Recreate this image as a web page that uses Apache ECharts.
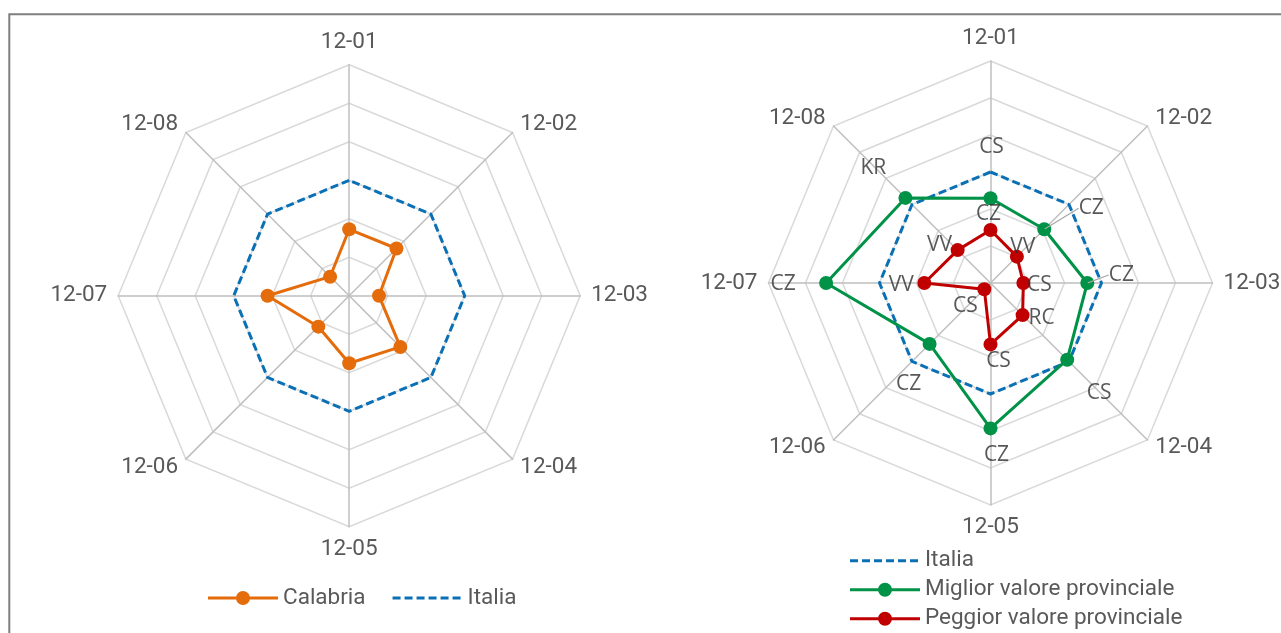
<!DOCTYPE html>
<html>
<head>
<meta charset="utf-8">
<script src="https://cdn.jsdelivr.net/npm/echarts@6/dist/echarts.min.js"></script>
<style>html,body{margin:0;padding:0;background:#fff;}#c{width:1281px;height:633px;}</style>
</head>
<body>
<div id="c"></div>
<script>
// ---- data ----
var categories = ['12-01','12-02','12-03','12-04','12-05','12-06','12-07','12-08'];
var calabria = [57.6, 57.9, 25.8, 62.6, 58.4, 37.8, 70.7, 23.4];
var italia = [100, 100, 100, 100, 100, 100, 100, 100];
var miglior = [76.3, 68.5, 87.2, 97.7, 131, 77.6, 148.1, 108.4];
var peggior = [47.7, 33.6, 29.6, 40.9, 55.3, 7.9, 59.6, 41.9];
var migliorProv = ['CS','CZ','CZ','CS','CZ','CZ','CZ','KR'];
var peggiorProv = ['CZ','VV','CS','RC','CS','CS','VV','VV'];
var axisMax = 200;

// ---- styles ----
var NARROW = "'Liberation Sans Narrow','Arial Narrow',Roboto,sans-serif";
var LBLFONT = "'Open Sans','Noto Sans',sans-serif";
var C_OR = '#E46C0A', C_BL = '#0A70B5', C_GR = '#009246', C_RD = '#C00000';
var migliorOff = [[1,-51],[47,-21],[34,-8],[32,33],[6,27],[-21,40],[-43,1],[-32,-30]];
var peggiorOff = [[-2,-16],[6,-10],[16,2],[19,3],[8,17],[-19,17],[-23,2],[-18,-5]];
var migliorLine = [false,true,true,false,false,false,false,false];

// radar places indicators counter-clockwise; reorder for clockwise
var order = [0,7,6,5,4,3,2,1];
function ro(arr){ return order.map(function(i){ return arr[i]; }); }
var indicators = ro(categories).map(function(n){ return {name:n, min:0, max:axisMax}; });

function radarCfg(center, radius){
  return {
    center: center, radius: radius, shape: 'polygon', splitNumber: 6, startAngle: 90,
    indicator: indicators, nameGap: 11,
    axisName: {color:'#595959', fontSize:22.5, fontFamily:NARROW},
    splitLine: {lineStyle:{color:'#D9D9D9', width:1.5}},
    splitArea: {show:false},
    axisLine: {lineStyle:{color:'#BFBFBF', width:1.5}},
    axisTick: {show:false}, axisLabel: {show:false}
  };
}
function lineSeries(name, ri, vals, color, dashed){
  return {
    type:'radar', radarIndex: ri, name: name, silent: true, z: dashed ? 2 : 3,
    symbol: dashed ? 'none' : 'circle', symbolSize: 14,
    itemStyle: {color: color, borderWidth: 0},
    lineStyle: {color: color, width: 3, type: dashed ? [8,4] : 'solid'},
    data: [{value: ro(vals), name: name}]
  };
}
function labelSeries(vals, names, offs, lines){
  return {
    type:'scatter', coordinateSystem:'polar', polarIndex:0, silent:true, z:5,
    symbolSize: 1, itemStyle:{color:'rgba(0,0,0,0)'},
    label: {show:true, position:'inside', formatter:'{b}', color:'#2E2E2E', fontSize:21, fontFamily:LBLFONT,
            textBorderWidth:0},
    labelLine: {show:false, lineStyle:{color:'#A6A6A6', width:1.2}},
    labelLayout: function(p){ var o = offs[p.dataIndex]; return {dx:o[0], dy:o[1]}; },
    data: vals.map(function(v,i){
      var d = {name: names[i], value: [v, i]};
      if (lines[i]) d.labelLine = {show:true};
      return d;
    })
  };
}
var solidIcon = 'path://M0,0 M70,15 M0,6 L70,6 L70,9 L0,9 Z M28,7.5 A7,7 0 1 1 42,7.5 A7,7 0 1 1 28,7.5 Z';
var dashIcon = 'path://M0,0 M70,15' + [0,12,24,36,48,60].map(function(x){
  return ' M'+x+',6 L'+(x+8)+',6 L'+(x+8)+',9 L'+x+',9 Z'; }).join('');
var legendText = {color:'#595959', fontSize:22.5, fontFamily:NARROW, lineHeight:24};

var chart = echarts.init(document.getElementById('c'), null, {renderer:'canvas'});
chart.setOption({
  animation: false,
  backgroundColor: '#fff',
  graphic: [{type:'rect', shape:{x:9.3, y:14.2, width:1400, height:700}, style:{fill:'none', stroke:'#7F7F7F', lineWidth:2}, silent:true}],
  radar: [radarCfg([349.2, 295.8], 231), radarCfg([990.5, 283], 222)],
  polar: [{center:[990.5, 283], radius:222}],
  angleAxis: [{polarIndex:0, type:'value', min:0, max:8, startAngle:90, clockwise:true, show:false}],
  radiusAxis: [{polarIndex:0, type:'value', min:0, max:axisMax, show:false}],
  legend: [
    {left:208, top:586, padding:0, orient:'horizontal', itemWidth:70, itemHeight:15, itemGap:27, selectedMode:false,
     textStyle: legendText,
     data:[{name:'Calabria', icon:solidIcon, itemStyle:{color:C_OR, borderWidth:0}},
           {name:'Italia', icon:dashIcon, itemStyle:{color:C_BL, borderWidth:0}}]},
    {left:850, top:548.7, padding:0, height:90, orient:'vertical', itemWidth:70, itemHeight:15, itemGap:5, selectedMode:false,
     textStyle: legendText,
     data:[{name:'Italia', icon:dashIcon, itemStyle:{color:C_BL, borderWidth:0}},
           {name:'Miglior valore provinciale', icon:solidIcon, itemStyle:{color:C_GR, borderWidth:0}},
           {name:'Peggior valore provinciale', icon:solidIcon, itemStyle:{color:C_RD, borderWidth:0}}]}
  ],
  series: [
    lineSeries('Italia', 0, italia, C_BL, true),
    lineSeries('Calabria', 0, calabria, C_OR, false),
    lineSeries('Italia', 1, italia, C_BL, true),
    lineSeries('Miglior valore provinciale', 1, miglior, C_GR, false),
    lineSeries('Peggior valore provinciale', 1, peggior, C_RD, false),
    labelSeries(miglior, migliorProv, migliorOff, migliorLine),
    labelSeries(peggior, peggiorProv, peggiorOff, [false,false,false,false,false,false,false,false])
  ]
});
</script>
</body>
</html>
